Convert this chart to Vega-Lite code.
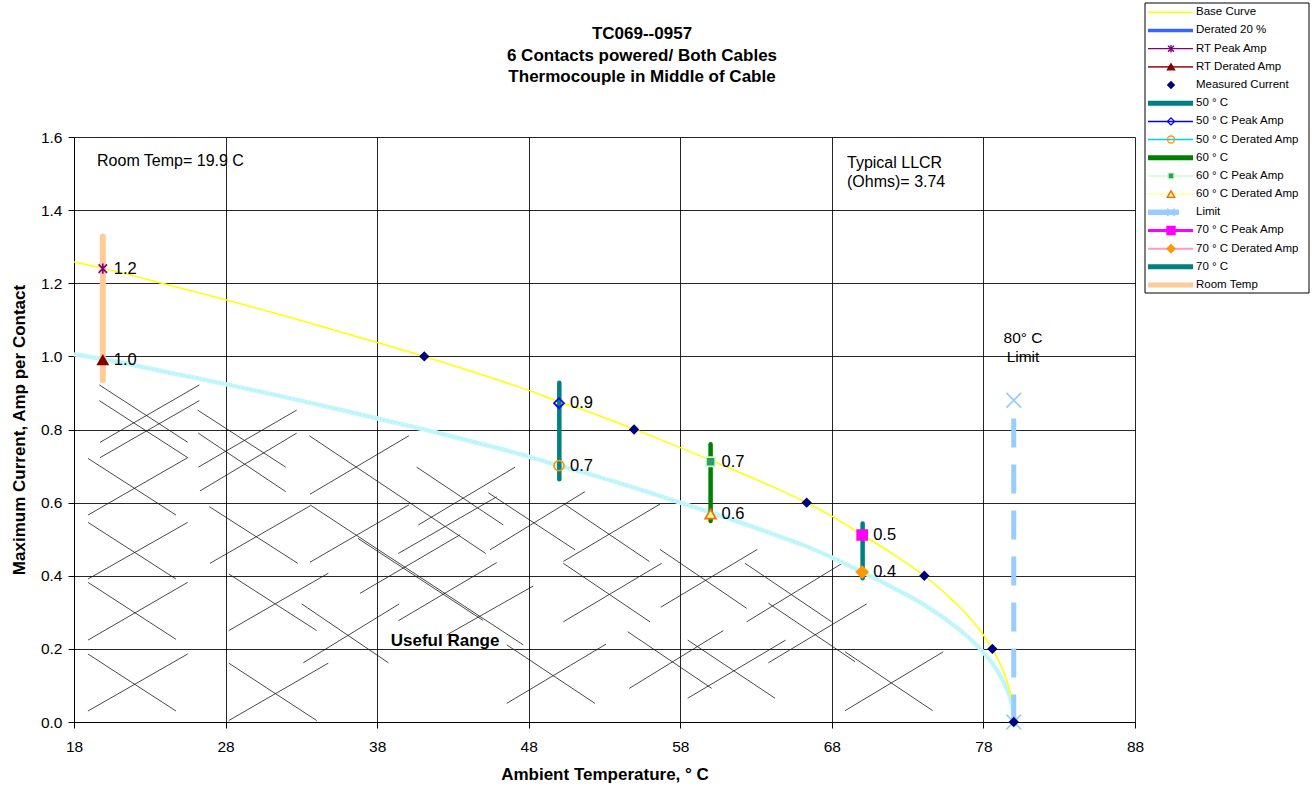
{
"$schema":"https://vega.github.io/schema/vega-lite/v6.json",
"width":1061,"height":585,
"autosize":{"type":"none"},
"padding":{"left":74,"top":137,"right":179,"bottom":69},
"background":"white",
"config":{"font":"Liberation Sans","view":{"stroke":null},"axis":{"labelColor":"#000","titleColor":"#000","domainColor":"#000","tickColor":"#000","gridColor":"#000","gridOpacity":0.85,"labelFont":"Liberation Sans","titleFont":"Liberation Sans"}},
"title":{"text":["TC069--0957","6 Contacts powered/ Both Cables","Thermocouple in Middle of Cable"],"fontSize":17,"fontWeight":"bold","font":"Liberation Sans","lineHeight":21.7,"anchor":"middle","dx":37.5,"offset":-84,"color":"#000"},
"datasets":{
"hatch":[
{"t1":19.67,"a1":0.922,"t2":25.50,"a2":0.765},
{"t1":19.67,"a1":0.879,"t2":25.50,"a2":0.723},
{"t1":19.72,"a1":0.765,"t2":26.27,"a2":0.922},
{"t1":19.72,"a1":0.723,"t2":26.27,"a2":0.879},
{"t1":18.92,"a1":0.721,"t2":24.73,"a2":0.566},
{"t1":18.92,"a1":0.566,"t2":25.50,"a2":0.723},
{"t1":18.92,"a1":0.546,"t2":24.73,"a2":0.391},
{"t1":18.92,"a1":0.391,"t2":25.50,"a2":0.546},
{"t1":18.92,"a1":0.382,"t2":24.73,"a2":0.226},
{"t1":18.92,"a1":0.224,"t2":25.50,"a2":0.382},
{"t1":18.92,"a1":0.186,"t2":24.73,"a2":0.030},
{"t1":18.92,"a1":0.030,"t2":25.50,"a2":0.186},
{"t1":26.16,"a1":0.853,"t2":31.97,"a2":0.697},
{"t1":26.20,"a1":0.790,"t2":31.97,"a2":0.630},
{"t1":26.20,"a1":0.697,"t2":32.69,"a2":0.853},
{"t1":26.31,"a1":0.632,"t2":32.69,"a2":0.790},
{"t1":26.93,"a1":0.589,"t2":32.76,"a2":0.434},
{"t1":26.97,"a1":0.434,"t2":33.57,"a2":0.591},
{"t1":28.21,"a1":0.405,"t2":34.01,"a2":0.250},
{"t1":28.21,"a1":0.250,"t2":34.78,"a2":0.407},
{"t1":28.21,"a1":0.161,"t2":34.01,"a2":0.004},
{"t1":28.21,"a1":0.004,"t2":34.78,"a2":0.161},
{"t1":33.52,"a1":0.783,"t2":45.16,"a2":0.461},
{"t1":33.57,"a1":0.623,"t2":40.10,"a2":0.783},
{"t1":33.57,"a1":0.594,"t2":47.64,"a2":0.211},
{"t1":36.74,"a1":0.502,"t2":44.98,"a2":0.278},
{"t1":33.57,"a1":0.437,"t2":40.10,"a2":0.594},
{"t1":33.02,"a1":0.323,"t2":38.74,"a2":0.162},
{"t1":33.13,"a1":0.162,"t2":39.46,"a2":0.323},
{"t1":40.61,"a1":0.697,"t2":46.32,"a2":0.539},
{"t1":40.72,"a1":0.539,"t2":47.10,"a2":0.697},
{"t1":39.40,"a1":0.461,"t2":45.89,"a2":0.616},
{"t1":45.33,"a1":0.627,"t2":51.05,"a2":0.471},
{"t1":45.45,"a1":0.471,"t2":51.71,"a2":0.630},
{"t1":36.87,"a1":0.352,"t2":43.47,"a2":0.512},
{"t1":39.40,"a1":0.277,"t2":45.89,"a2":0.436},
{"t1":46.55,"a1":0.211,"t2":52.37,"a2":0.051},
{"t1":46.55,"a1":0.051,"t2":53.10,"a2":0.213},
{"t1":42.59,"a1":0.238,"t2":48.30,"a2":0.372},
{"t1":50.28,"a1":0.598,"t2":55.96,"a2":0.439},
{"t1":50.28,"a1":0.439,"t2":56.66,"a2":0.596},
{"t1":50.28,"a1":0.434,"t2":56.00,"a2":0.274},
{"t1":50.28,"a1":0.274,"t2":56.77,"a2":0.434},
{"t1":54.53,"a1":0.247,"t2":60.07,"a2":0.092},
{"t1":54.64,"a1":0.092,"t2":60.84,"a2":0.250},
{"t1":56.66,"a1":0.472,"t2":62.38,"a2":0.311},
{"t1":56.71,"a1":0.314,"t2":63.08,"a2":0.472},
{"t1":58.49,"a1":0.224,"t2":64.25,"a2":0.065},
{"t1":58.49,"a1":0.065,"t2":64.95,"a2":0.224},
{"t1":62.27,"a1":0.434,"t2":67.99,"a2":0.274},
{"t1":62.38,"a1":0.274,"t2":68.76,"a2":0.436},
{"t1":63.81,"a1":0.325,"t2":69.53,"a2":0.165},
{"t1":63.81,"a1":0.162,"t2":70.30,"a2":0.323},
{"t1":68.87,"a1":0.192,"t2":74.65,"a2":0.031},
{"t1":68.87,"a1":0.031,"t2":75.35,"a2":0.192}
],
"curves":[
{"series":"Base Curve","t":18,"a":1.258},{"series":"Base Curve","t":20,"a":1.240},{"series":"Base Curve","t":24,"a":1.198},{"series":"Base Curve","t":28,"a":1.155},{"series":"Base Curve","t":32,"a":1.110},{"series":"Base Curve","t":36,"a":1.062},{"series":"Base Curve","t":41.11,"a":1.000},{"series":"Base Curve","t":44,"a":0.962},{"series":"Base Curve","t":48,"a":0.907},{"series":"Base Curve","t":50,"a":0.876},{"series":"Base Curve","t":52,"a":0.848},{"series":"Base Curve","t":54.95,"a":0.801},{"series":"Base Curve","t":56,"a":0.784},{"series":"Base Curve","t":60,"a":0.716},{"series":"Base Curve","t":64,"a":0.645},{"series":"Base Curve","t":66.34,"a":0.600},{"series":"Base Curve","t":68,"a":0.563},{"series":"Base Curve","t":70,"a":0.512},{"series":"Base Curve","t":72,"a":0.460},{"series":"Base Curve","t":74.1,"a":0.400},{"series":"Base Curve","t":76,"a":0.332},{"series":"Base Curve","t":77,"a":0.290},{"series":"Base Curve","t":78,"a":0.238},{"series":"Base Curve","t":78.59,"a":0.200},{"series":"Base Curve","t":79.2,"a":0.150},{"series":"Base Curve","t":79.6,"a":0.106},{"series":"Base Curve","t":79.85,"a":0.065},{"series":"Base Curve","t":79.97,"a":0.029},{"series":"Base Curve","t":80,"a":0},
{"series":"Derated 20 %","t":18,"a":1.006},{"series":"Derated 20 %","t":20,"a":0.992},{"series":"Derated 20 %","t":24,"a":0.958},{"series":"Derated 20 %","t":28,"a":0.924},{"series":"Derated 20 %","t":32,"a":0.888},{"series":"Derated 20 %","t":36,"a":0.850},{"series":"Derated 20 %","t":41.11,"a":0.800},{"series":"Derated 20 %","t":44,"a":0.770},{"series":"Derated 20 %","t":48,"a":0.726},{"series":"Derated 20 %","t":50,"a":0.701},{"series":"Derated 20 %","t":52,"a":0.678},{"series":"Derated 20 %","t":54.95,"a":0.641},{"series":"Derated 20 %","t":56,"a":0.627},{"series":"Derated 20 %","t":60,"a":0.573},{"series":"Derated 20 %","t":64,"a":0.516},{"series":"Derated 20 %","t":66.34,"a":0.480},{"series":"Derated 20 %","t":68,"a":0.450},{"series":"Derated 20 %","t":70,"a":0.410},{"series":"Derated 20 %","t":72,"a":0.368},{"series":"Derated 20 %","t":74.1,"a":0.320},{"series":"Derated 20 %","t":76,"a":0.266},{"series":"Derated 20 %","t":77,"a":0.232},{"series":"Derated 20 %","t":78,"a":0.190},{"series":"Derated 20 %","t":78.59,"a":0.160},{"series":"Derated 20 %","t":79.2,"a":0.120},{"series":"Derated 20 %","t":79.6,"a":0.085},{"series":"Derated 20 %","t":79.85,"a":0.052},{"series":"Derated 20 %","t":79.97,"a":0.023},{"series":"Derated 20 %","t":80,"a":0}
],
"vlines":[
{"series":"Room Temp","t":19.9,"lo":0.935,"hi":1.328},
{"series":"50 ° C","t":50.02,"lo":0.664,"hi":0.928},
{"series":"60  ° C","t":60.0,"lo":0.550,"hi":0.760},
{"series":"70  ° C","t":70.03,"lo":0.393,"hi":0.543},
{"series":"Limit","t":80.0,"lo":0,"hi":0.83}
],
"points":[
{"series":"RT Peak Amp","t":19.9,"a":1.24,"label":"1.2"},
{"series":"RT Derated Amp","t":19.9,"a":0.99,"label":"1.0"},
{"series":"50  ° C Peak Amp","t":50,"a":0.872,"label":"0.9"},
{"series":"50  ° C Derated Amp","t":50,"a":0.701,"label":"0.7"},
{"series":"60  ° C Peak Amp","t":60,"a":0.712,"label":"0.7"},
{"series":"60  ° C Derated Amp","t":60,"a":0.569,"label":"0.6"},
{"series":"70  ° C Peak Amp","t":70,"a":0.5115,"label":"0.5"},
{"series":"70  ° C Derated Amp","t":70,"a":0.41,"label":"0.4"},
{"series":"Limit","t":80,"a":0.88},
{"series":"Limit","t":80,"a":0},
{"series":"Measured Current","t":41.11,"a":1.0},
{"series":"Measured Current","t":54.95,"a":0.8},
{"series":"Measured Current","t":66.34,"a":0.6},
{"series":"Measured Current","t":74.1,"a":0.4},
{"series":"Measured Current","t":78.59,"a":0.2},
{"series":"Measured Current","t":80.0,"a":0.0}
],
"notes":[
{"note":"Room Temp= 19.9 C","t":19.52,"a":1.534,"kind":"left"},
{"note":"Typical LLCR\n(Ohms)= 3.74","t":69.0,"a":1.530,"kind":"left"},
{"note":"80° C\nLimit","t":80.61,"a":1.049,"kind":"center"},
{"note":"Useful Range","t":42.48,"a":0.222,"kind":"bold"}
],
"legend":[
{"series":"Base Curve"},{"series":"Derated 20 %"},{"series":"RT Peak Amp"},{"series":"RT Derated Amp"},{"series":"Measured Current"},{"series":"50 ° C"},{"series":"50  ° C Peak Amp"},{"series":"50  ° C Derated Amp"},{"series":"60  ° C"},{"series":"60  ° C Peak Amp"},{"series":"60  ° C Derated Amp"},{"series":"Limit"},{"series":"70  ° C Peak Amp"},{"series":"70  ° C Derated Amp"},{"series":"70  ° C"},{"series":"Room Temp"}
]
},
"layer":[
{"layer":[
 {"data":{"name":"hatch"},"mark":{"type":"rule","color":"#1a1a1a","strokeWidth":0.8},
  "encoding":{
   "x":{"field":"t1","type":"quantitative","scale":{"domain":[18,88],"nice":false,"zero":false},
        "axis":{"title":"Ambient Temperature,  ° C","values":[18,28,38,48,58,68,78,88],"grid":true,"tickSize":6,"labelFontSize":15.5,"labelPadding":11,"titleFontSize":17,"titleFontWeight":"bold","titlePadding":12,"labelFlush":false,"labelOverlap":false}},
   "y":{"field":"a1","type":"quantitative","scale":{"domain":[0,1.6],"nice":false,"zero":false},
        "axis":{"title":"Maximum Current, Amp per Contact","values":[0,0.2,0.4,0.6,0.8,1,1.2,1.4,1.6],"format":".1f","grid":true,"tickSize":6,"labelPadding":6,"labelFontSize":15.5,"titleFontSize":17,"titleFontWeight":"bold","titlePadding":12,"labelFlush":false,"labelOverlap":false}},
   "x2":{"field":"t2"},"y2":{"field":"a2"}}},
 {"data":{"name":"curves"},"transform":[{"filter":"datum.series === 'Derated 20 %'"}],
  "mark":{"type":"line","color":"#c4f7fb","strokeWidth":4.5,"interpolate":"monotone"},
  "encoding":{"x":{"field":"t","type":"quantitative"},"y":{"field":"a","type":"quantitative"}}},
 {"data":{"name":"curves"},"transform":[{"filter":"datum.series === 'Derated 20 %'"}],
  "mark":{"type":"line","color":"#7fd0e8","strokeWidth":1,"strokeDash":[1.5,2.5],"opacity":0.3,"interpolate":"monotone"},
  "encoding":{"x":{"field":"t","type":"quantitative"},"y":{"field":"a","type":"quantitative"}}},
 {"data":{"name":"curves"},"transform":[{"filter":"datum.series === 'Base Curve'"}],
  "mark":{"type":"line","color":"#ffff00","strokeWidth":1.5,"interpolate":"monotone"},
  "encoding":{"x":{"field":"t","type":"quantitative"},"y":{"field":"a","type":"quantitative"}}},
 {"data":{"name":"vlines"},"transform":[{"filter":"datum.series === 'Room Temp'"}],
  "mark":{"type":"rule","color":"#ffcc99","strokeWidth":6,"strokeCap":"round"},
  "encoding":{"x":{"field":"t","type":"quantitative"},"y":{"field":"hi","type":"quantitative"},"y2":{"field":"lo"}}},
 {"data":{"name":"vlines"},"transform":[{"filter":"datum.series === '50 ° C' || datum.series === '70  ° C'"}],
  "mark":{"type":"rule","color":"#008080","strokeWidth":4.5,"strokeCap":"round"},
  "encoding":{"x":{"field":"t","type":"quantitative"},"y":{"field":"hi","type":"quantitative"},"y2":{"field":"lo"}}},
 {"data":{"name":"vlines"},"transform":[{"filter":"datum.series === '60  ° C'"}],
  "mark":{"type":"rule","color":"#008000","strokeWidth":4.5,"strokeCap":"round"},
  "encoding":{"x":{"field":"t","type":"quantitative"},"y":{"field":"hi","type":"quantitative"},"y2":{"field":"lo"}}},
 {"data":{"name":"vlines"},"transform":[{"filter":"datum.series === 'Limit'"}],
  "mark":{"type":"rule","color":"#99ccff","strokeWidth":5,"strokeDash":[29,17]},
  "encoding":{"x":{"field":"t","type":"quantitative"},"y":{"field":"hi","type":"quantitative"},"y2":{"field":"lo"}}},
 {"data":{"name":"points"},
  "mark":{"type":"point","filled":true,"opacity":1,"strokeWidth":1.7},
  "encoding":{"x":{"field":"t","type":"quantitative"},"y":{"field":"a","type":"quantitative"},
   "shape":{"field":"series","type":"nominal","scale":{"domain":["RT Peak Amp","RT Derated Amp","Measured Current","50  ° C Peak Amp","50  ° C Derated Amp","60  ° C Peak Amp","60  ° C Derated Amp","Limit","70  ° C Peak Amp","70  ° C Derated Amp"],"range":["M-0.8,-0.8L0.8,0.8M0.8,-0.8L-0.8,0.8M0,-1L0,1","triangle-up","diamond","diamond","circle","square","triangle-up","M-1,-1L1,1M1,-1L-1,1","square","diamond"]},"legend":null},
   "fill":{"field":"series","type":"nominal","scale":{"domain":["RT Peak Amp","RT Derated Amp","Measured Current","50  ° C Peak Amp","50  ° C Derated Amp","60  ° C Peak Amp","60  ° C Derated Amp","Limit","70  ° C Peak Amp","70  ° C Derated Amp"],"range":["#800080","#800000","#000080","transparent","transparent","#339966","#ffff99","transparent","#ff00ff","#ff9900"]},"legend":null},
   "stroke":{"field":"series","type":"nominal","scale":{"domain":["RT Peak Amp","RT Derated Amp","Measured Current","50  ° C Peak Amp","50  ° C Derated Amp","60  ° C Peak Amp","60  ° C Derated Amp","Limit","70  ° C Peak Amp","70  ° C Derated Amp"],"range":["#800080","#800000","#000080","#0000ff","#ff9900","#ccffcc","#ff6600","#99ccff","#ff00ff","#ff9900"]},"legend":null},
   "size":{"field":"series","type":"nominal","scale":{"type":"ordinal","domain":["RT Peak Amp","RT Derated Amp","Measured Current","50  ° C Peak Amp","50  ° C Derated Amp","60  ° C Peak Amp","60  ° C Derated Amp","Limit","70  ° C Peak Amp","70  ° C Derated Amp"],"range":[110,100,64,100,100,85,115,216,100,130]},"legend":null}}},
 {"data":{"name":"points"},"transform":[{"filter":"datum.label != null"}],
  "mark":{"type":"text","align":"left","baseline":"middle","dx":11,"fontSize":16.5,"color":"#000"},
  "encoding":{"x":{"field":"t","type":"quantitative"},"y":{"field":"a","type":"quantitative"},"text":{"field":"label"}}},
 {"data":{"name":"notes"},"transform":[{"filter":"datum.kind === 'left'"}],
  "mark":{"type":"text","align":"left","baseline":"middle","fontSize":16,"lineHeight":19,"lineBreak":"\n","color":"#000"},
  "encoding":{"x":{"field":"t","type":"quantitative"},"y":{"field":"a","type":"quantitative"},"text":{"field":"note"}}},
 {"data":{"name":"notes"},"transform":[{"filter":"datum.kind === 'center'"}],
  "mark":{"type":"text","align":"center","baseline":"middle","fontSize":15.5,"lineHeight":19,"lineBreak":"\n","color":"#000"},
  "encoding":{"x":{"field":"t","type":"quantitative"},"y":{"field":"a","type":"quantitative"},"text":{"field":"note"}}},
 {"data":{"name":"notes"},"transform":[{"filter":"datum.kind === 'bold'"}],
  "mark":{"type":"text","align":"center","baseline":"middle","fontSize":17,"fontWeight":"bold","color":"#000"},
  "encoding":{"x":{"field":"t","type":"quantitative"},"y":{"field":"a","type":"quantitative"},"text":{"field":"note"}}}
]},
{"layer":[
 {"data":{"values":[{"box":"legend"}]},"mark":{"type":"rect","fill":"white","stroke":"#000","strokeWidth":1},
  "encoding":{"x":{"datum":0,"type":"quantitative","scale":{"domain":[0,164],"range":[1071,1235]},"axis":null},"x2":{"datum":164},
   "y":{"datum":0,"type":"quantitative","scale":{"domain":[0,1],"range":[-134,156]},"axis":null},"y2":{"datum":1}}},
 {"layer":[
  {"data":{"name":"legend"},"transform":[{"filter":"datum.series !== 'Measured Current' && datum.series !== 'Limit'"}],
   "mark":{"type":"rule"},
   "encoding":{"x":{"datum":3,"type":"quantitative","scale":{"domain":[0,164],"range":[1071,1235]},"axis":null},"x2":{"datum":48},
    "y":{"field":"series","type":"nominal","sort":null,"scale":{"type":"point","domain":["Base Curve","Derated 20 %","RT Peak Amp","RT Derated Amp","Measured Current","50 ° C","50  ° C Peak Amp","50  ° C Derated Amp","60  ° C","60  ° C Peak Amp","60  ° C Derated Amp","Limit","70  ° C Peak Amp","70  ° C Derated Amp","70  ° C","Room Temp"],"range":[-124.7,148],"padding":0},"axis":null},
    "color":{"field":"series","type":"nominal","scale":{"domain":["Base Curve","Derated 20 %","RT Peak Amp","RT Derated Amp","50 ° C","50  ° C Peak Amp","50  ° C Derated Amp","60  ° C","60  ° C Peak Amp","60  ° C Derated Amp","Limit","70  ° C Peak Amp","70  ° C Derated Amp","70  ° C","Room Temp"],"range":["#ffff00","#3366ff","#800080","#a52a2a","#008080","#0000ff","#00ccff","#008000","#ccffcc","#ffff99","#99ccff","#ff00ff","#ff99cc","#008080","#ffcc99"]},"legend":null},
    "strokeWidth":{"field":"series","type":"nominal","scale":{"type":"ordinal","domain":["Base Curve","Derated 20 %","RT Peak Amp","RT Derated Amp","50 ° C","50  ° C Peak Amp","50  ° C Derated Amp","60  ° C","60  ° C Peak Amp","60  ° C Derated Amp","Limit","70  ° C Peak Amp","70  ° C Derated Amp","70  ° C","Room Temp"],"range":[1.5,3.5,1.2,1.8,5,1.5,1.5,5,1.5,1.5,5.5,3,2,5,5]},"legend":null}}},
  {"data":{"name":"legend"},"transform":[{"filter":"datum.series === 'Limit'"}],
   "mark":{"type":"rule"},
   "encoding":{"x":{"datum":3,"type":"quantitative","scale":{"domain":[0,164],"range":[1071,1235]},"axis":null},"x2":{"datum":34},
    "y":{"field":"series","type":"nominal","sort":null,"scale":{"type":"point","domain":["Base Curve","Derated 20 %","RT Peak Amp","RT Derated Amp","Measured Current","50 ° C","50  ° C Peak Amp","50  ° C Derated Amp","60  ° C","60  ° C Peak Amp","60  ° C Derated Amp","Limit","70  ° C Peak Amp","70  ° C Derated Amp","70  ° C","Room Temp"],"range":[-124.7,148],"padding":0},"axis":null},
    "color":{"field":"series","type":"nominal","scale":{"domain":["Base Curve","Derated 20 %","RT Peak Amp","RT Derated Amp","50 ° C","50  ° C Peak Amp","50  ° C Derated Amp","60  ° C","60  ° C Peak Amp","60  ° C Derated Amp","Limit","70  ° C Peak Amp","70  ° C Derated Amp","70  ° C","Room Temp"],"range":["#ffff00","#3366ff","#800080","#a52a2a","#008080","#0000ff","#00ccff","#008000","#ccffcc","#ffff99","#99ccff","#ff00ff","#ff99cc","#008080","#ffcc99"]},"legend":null},
    "strokeWidth":{"field":"series","type":"nominal","scale":{"type":"ordinal","domain":["Base Curve","Derated 20 %","RT Peak Amp","RT Derated Amp","50 ° C","50  ° C Peak Amp","50  ° C Derated Amp","60  ° C","60  ° C Peak Amp","60  ° C Derated Amp","Limit","70  ° C Peak Amp","70  ° C Derated Amp","70  ° C","Room Temp"],"range":[1.5,3.5,1.2,1.8,5,1.5,1.5,5,1.5,1.5,5.5,3,2,5,5]},"legend":null}}},
  {"data":{"name":"legend"},"transform":[{"filter":{"field":"series","oneOf":["RT Peak Amp","RT Derated Amp","Measured Current","50  ° C Peak Amp","50  ° C Derated Amp","60  ° C Peak Amp","60  ° C Derated Amp","Limit","70  ° C Peak Amp","70  ° C Derated Amp"]}}],
   "mark":{"type":"point","filled":true,"opacity":1,"strokeWidth":1.4},
   "encoding":{"x":{"datum":26,"type":"quantitative","scale":{"domain":[0,164],"range":[1071,1235]},"axis":null},
    "y":{"field":"series","type":"nominal","sort":null,"scale":{"type":"point","domain":["Base Curve","Derated 20 %","RT Peak Amp","RT Derated Amp","Measured Current","50 ° C","50  ° C Peak Amp","50  ° C Derated Amp","60  ° C","60  ° C Peak Amp","60  ° C Derated Amp","Limit","70  ° C Peak Amp","70  ° C Derated Amp","70  ° C","Room Temp"],"range":[-124.7,148],"padding":0},"axis":null},
    "shape":{"field":"series","type":"nominal","scale":{"domain":["RT Peak Amp","RT Derated Amp","Measured Current","50  ° C Peak Amp","50  ° C Derated Amp","60  ° C Peak Amp","60  ° C Derated Amp","Limit","70  ° C Peak Amp","70  ° C Derated Amp"],"range":["M-0.8,-0.8L0.8,0.8M0.8,-0.8L-0.8,0.8M0,-1L0,1","triangle-up","diamond","diamond","circle","square","triangle-up","M-1,-1L1,1M1,-1L-1,1","square","diamond"]},"legend":null},
    "fill":{"field":"series","type":"nominal","scale":{"domain":["RT Peak Amp","RT Derated Amp","Measured Current","50  ° C Peak Amp","50  ° C Derated Amp","60  ° C Peak Amp","60  ° C Derated Amp","Limit","70  ° C Peak Amp","70  ° C Derated Amp"],"range":["#800080","#800000","#000080","transparent","transparent","#339966","#ffff99","transparent","#ff00ff","#ff9900"]},"legend":null},
    "stroke":{"field":"series","type":"nominal","scale":{"domain":["RT Peak Amp","RT Derated Amp","Measured Current","50  ° C Peak Amp","50  ° C Derated Amp","60  ° C Peak Amp","60  ° C Derated Amp","Limit","70  ° C Peak Amp","70  ° C Derated Amp"],"range":["#800080","#800000","#000080","#0000ff","#ff9900","#ccffcc","#ff6600","#99ccff","#ff00ff","#ff9900"]},"legend":null},
    "size":{"field":"series","type":"nominal","scale":{"type":"ordinal","domain":["RT Peak Amp","RT Derated Amp","Measured Current","50  ° C Peak Amp","50  ° C Derated Amp","60  ° C Peak Amp","60  ° C Derated Amp","Limit","70  ° C Peak Amp","70  ° C Derated Amp"],"range":[56,49,42,49,49,36,56,56,64,64]},"legend":null}}},
  {"data":{"name":"legend"},
   "mark":{"type":"text","align":"left","baseline":"middle","fontSize":11.5,"color":"#000"},
   "encoding":{"x":{"datum":51,"type":"quantitative","scale":{"domain":[0,164],"range":[1071,1235]},"axis":null},
    "y":{"field":"series","type":"nominal","sort":null,"scale":{"type":"point","domain":["Base Curve","Derated 20 %","RT Peak Amp","RT Derated Amp","Measured Current","50 ° C","50  ° C Peak Amp","50  ° C Derated Amp","60  ° C","60  ° C Peak Amp","60  ° C Derated Amp","Limit","70  ° C Peak Amp","70  ° C Derated Amp","70  ° C","Room Temp"],"range":[-124.7,148],"padding":0},"axis":null},
    "text":{"field":"series"}}}
 ]}
],
"resolve":{"scale":{"y":"independent"}}}
],
"resolve":{"scale":{"x":"independent","y":"independent","size":"independent"}}
}
